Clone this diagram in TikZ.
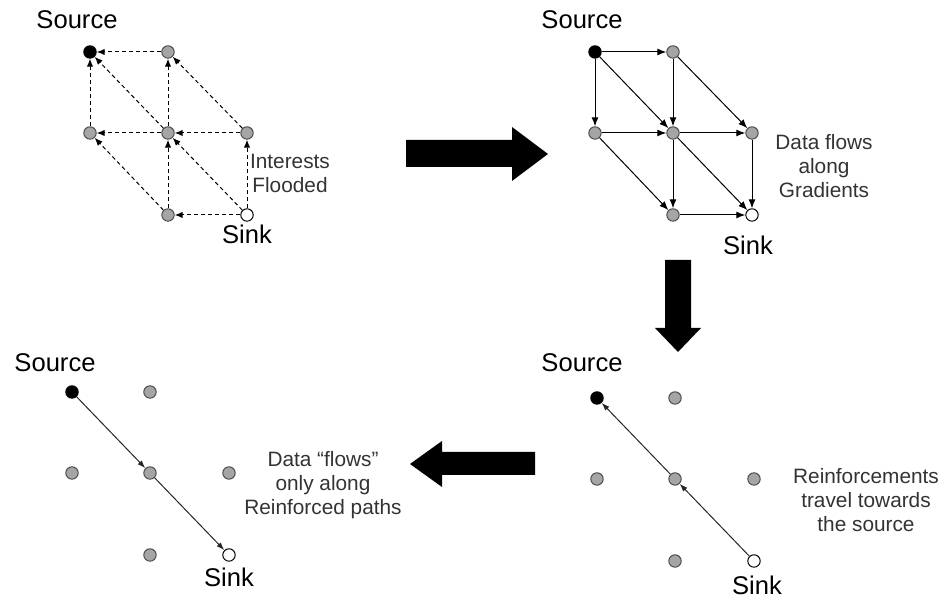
\documentclass[tikz,border=0pt]{standalone}
\usepackage{fontspec}
\setmainfont{Liberation Sans}
\usetikzlibrary{arrows.meta}

\definecolor{dotgray}{RGB}{165,165,165}

% seven sensor nodes of one panel, names prefixed by #1
\newcommand{\dotgrid}[1]{%
  \node[srcdot] (#1-src) at (0,0) {};
  \node[dot] (#1-up) at (78,0) {};
  \node[dot] (#1-left) at (0,-81) {};
  \node[dot] (#1-mid) at (78,-81) {};
  \node[dot] (#1-right) at (157,-81) {};
  \node[dot] (#1-low) at (78,-163) {};
  \node[sinkdot] (#1-sink) at (157,-163) {};}

\begin{document}
\begin{tikzpicture}[x=0.5pt,y=0.5pt,
  dot/.style={circle, draw=black!70, fill=dotgray, line width=0.5pt, inner sep=0pt, minimum size=6.2pt},
  srcdot/.style={dot, draw=black, fill=black},
  sinkdot/.style={dot, draw=black, fill=white},
  bigtxt/.style={font=\fontsize{12.8}{15}\selectfont},
  smalltxt/.style={font=\fontsize{10.4}{12}\selectfont, align=center, text=black!80},
  flood/.style={dash pattern=on 2pt off 1.5pt, line width=0.5pt, -{Latex[length=4pt,width=3.2pt]}},
  grad/.style={line width=0.5pt, -{Latex[length=4.5pt,width=3.5pt]}},
  reinf/.style={line width=0.5pt, black!85, -{Latex[length=4pt,width=2.8pt]}}]
\useasboundingbox (0,0) rectangle (943,598);

% interests flooded
\begin{scope}[shift={(90,546)}]
  \dotgrid{fl}
  \foreach \a/\b in {up/src, left/src, mid/src, mid/up, right/up, mid/left,
      right/mid, low/mid, sink/mid, low/left, sink/low, sink/right}
    \draw[flood] (fl-\a) -- (fl-\b);
  \node[bigtxt, xshift=-6.5pt, yshift=16pt] (fl-srclbl) at (fl-src) {Source};
  \node[bigtxt, yshift=-9.5pt] (fl-sinklbl) at (fl-sink) {Sink};
\end{scope}
\node[smalltxt] (fl-txt) at (290,425) {Interests\\Flooded};

% gradients
\begin{scope}[shift={(595,546)}]
  \dotgrid{gr}
  \foreach \a/\b in {src/up, src/left, src/mid, up/mid, up/right, left/mid,
      mid/right, mid/low, mid/sink, left/low, low/sink, right/sink}
    \draw[grad] (gr-\a) -- (gr-\b);
  \node[bigtxt, xshift=-6.5pt, yshift=16pt] (gr-srclbl) at (gr-src) {Source};
  \node[bigtxt, xshift=-2pt, yshift=-15pt] (gr-sinklbl) at (gr-sink) {Sink};
\end{scope}
\node[smalltxt] (gr-txt) at (824,432) {Data flows\\along\\Gradients};

% reinforcement
\begin{scope}[shift={(597,200)}]
  \dotgrid{rf}
  \draw[reinf] (rf-sink) -- (rf-mid);
  \draw[reinf] (rf-mid) -- (rf-src);
  \node[bigtxt, xshift=-7.5pt, yshift=17.5pt] (rf-srclbl) at (rf-src) {Source};
  \node[bigtxt, xshift=1.5pt, yshift=-12pt] (rf-sinklbl) at (rf-sink) {Sink};
\end{scope}
\node[smalltxt] (rf-txt) at (866,98) {Reinforcements\\travel towards\\the source};

% reinforced path
\begin{scope}[shift={(72,206)}]
  \dotgrid{pa}
  \draw[reinf] (pa-src) -- (pa-mid);
  \draw[reinf] (pa-mid) -- (pa-sink);
  \node[bigtxt, xshift=-8.5pt, yshift=14.5pt] (pa-srclbl) at (pa-src) {Source};
  \node[bigtxt, yshift=-11pt] (pa-sinklbl) at (pa-sink) {Sink};
\end{scope}
\node[smalltxt] (pa-txt) at (323,113) {Data “flows”\\only along\\Reinforced paths};

% big block arrows between panels
\fill (406,431) -- (512,431) -- (512,417) -- (548,444) -- (512,471) -- (512,458) -- (406,458) -- cycle;
\fill (665,338) -- (691,338) -- (691,270) -- (701,270) -- (678,246) -- (655,270) -- (665,270) -- cycle;
\fill (535,123) -- (535,146) -- (442,146) -- (442,157) -- (410,134) -- (442,111) -- (442,123) -- cycle;
\end{tikzpicture}
\end{document}
